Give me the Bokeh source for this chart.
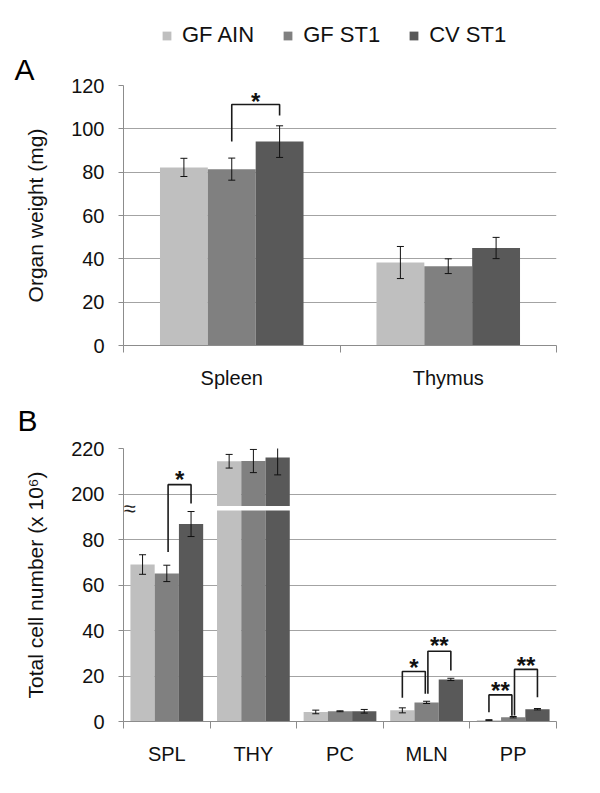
from bokeh.plotting import figure
from bokeh.models import FixedTicker, Legend, LegendItem, Label, Title
from bokeh.layouts import column
from bokeh.embed import file_html
from bokeh.resources import INLINE
from bokeh.core.properties import value

FONT = "Liberation Sans"
TEXT = "#111111"
GRID = "#a3a3a3"
AXIS = "#8c8c8c"

# ---------------- data ----------------
groups = ["GF AIN", "GF ST1", "CV ST1"]
colors = ["#bfbfbf", "#808080", "#595959"]

# Panel A: organ weight (mg)
organs = ["Spleen", "Thymus"]
weight_gf_ain = [82.2, 38.3]
weight_gf_st1 = [81.4, 36.6]
weight_cv_st1 = [94.1, 45.0]
weight_err_gf_ain = [4.2, 7.4]
weight_err_gf_st1 = [5.1, 3.4]
weight_err_cv_st1 = [7.3, 4.9]
weight_ticks = [0, 20, 40, 60, 80, 100, 120]

# Panel B: total cell number (x 10^6), broken axis
tissues = ["SPL", "THY", "PC", "MLN", "PP"]
cells_gf_ain = [69.0, 214.4, 4.2, 4.9, 0.6]
cells_gf_st1 = [65.1, 214.5, 4.5, 8.4, 1.9]
cells_cv_st1 = [86.8, 216.0, 4.5, 18.5, 5.4]
cells_err_gf_ain = [4.3, 3.0, 0.8, 1.1, 0.2]
cells_err_gf_st1 = [3.6, 5.1, 0.2, 0.5, 0.3]
cells_err_cv_st1 = [5.5, 7.6, 0.8, 0.5, 0.3]
cells_ticks = [0, 20, 40, 60, 80, 200, 220]
break_shift = 100          # values above the break are drawn 100 lower
break_gap = (92.7, 94.7)   # white gap in the broken bars (axis units)

# significance brackets: (category, bar_from, bar_to, y_left, y_top, y_right, label, y_label)
brackets_a = [(0, 1, 2, 94.2, 111.2, 106.2, "*", 114.5)]
brackets_b = [
    (0, 1, 2, 74.5, 104.1, 95.8, "*", 108.3),
    (3, 0, 1, 10.4, 22.0, 12.2, "*", 25.4),
    (3, 1, 2, 12.2, 30.9, 22.4, "**", 35.0),
    (4, 0, 1, 4.1, 11.7, 2.5, "**", 15.4),
    (4, 1, 2, 2.6, 22.9, 10.7, "**", 26.5),
]


def tr(v):
    return v - break_shift if v > 150 else v


def style_axes(p, label):
    p.outline_line_color = None
    p.xgrid.visible = False
    p.ygrid.grid_line_color = GRID
    p.ygrid.grid_line_width = 1
    for ax in (p.xaxis[0], p.yaxis[0]):
        ax.axis_line_color = AXIS
        ax.major_tick_line_color = AXIS
        ax.minor_tick_line_color = AXIS
        ax.major_label_text_font = FONT
        ax.major_label_text_color = TEXT
        ax.axis_label_text_font = FONT
        ax.axis_label_text_color = TEXT
        ax.axis_label_text_font_style = "normal"
    xa, ya = p.xaxis[0], p.yaxis[0]
    xa.major_tick_out = 0
    xa.major_tick_in = 0
    xa.minor_tick_out = 7
    xa.minor_tick_in = 0
    xa.major_label_text_font_size = "20px"
    xa.major_label_standoff = 14
    ya.major_tick_out = 5
    ya.major_tick_in = 0
    ya.minor_tick_out = 0
    ya.minor_tick_in = 0
    ya.major_label_text_font_size = "20px"
    ya.major_label_standoff = 14
    ya.axis_label = label
    ya.axis_label_text_font_size = "21px"
    ya.axis_label_standoff = 21


def add_errors(p, xs, tops, errs, cap):
    lo = [t - e for t, e in zip(tops, errs)]
    hi = [t + e for t, e in zip(tops, errs)]
    p.segment(x0=xs, y0=lo, x1=xs, y1=hi, line_color="#111111", line_width=1)
    p.scatter(x=xs + xs, y=lo + hi, marker="dash", size=cap,
              line_color="#111111", line_width=1)


def add_brackets(p, brackets, w, nudge, size, yoff):
    for cat, b0, b1, yl, yt, yr, lab, ys in brackets:
        x0 = cat + (b0 - 1) * w + (nudge if b0 == 1 else 0)
        x1 = cat + (b1 - 1) * w - (nudge if b1 == 1 else 0)
        p.line(x=[x0, x0, x1, x1], y=[yl, yt, yt, yr], line_color="#1a1a1a", line_width=1.6)
        p.text(x=[(x0 + x1) / 2], y=[ys], text=[lab], text_align="center",
               text_baseline="alphabetic", y_offset=yoff,
               text_font=value(FONT), text_font_size=size, text_font_style="bold",
               text_color="#111111")


# ---------------- Legend strip ----------------
pL = figure(width=592, height=48, x_range=(0, 1), y_range=(0, 1),
            x_axis_type=None, y_axis_type=None, output_backend="svg",
            toolbar_location=None, min_border=0)
pL.outline_line_color = None
pL.grid.visible = False
items = []
for i, g in enumerate(groups):
    # zero-height swatch bars: only their colours are shown, in the legend
    r = pL.vbar(x=[0], bottom=[0], top=[0], width=0, fill_color=colors[i], line_color=None)
    items.append(LegendItem(label=g, renderers=[r]))
legend = Legend(items=items, orientation="horizontal", location=(38, 0),
                padding=0, margin=0, spacing=28, label_standoff=10,
                glyph_width=11, glyph_height=11,
                label_text_font=FONT, label_text_font_size="22px", label_text_color=TEXT,
                border_line_color=None, background_fill_alpha=0)
pL.add_layout(legend)

# ---------------- Panel A ----------------
wA = 0.221
pA = figure(width=592, height=343, x_range=(-0.5, len(organs) - 0.5), y_range=(0, 120),
            output_backend="svg", toolbar_location=None,
            min_border_left=122, min_border_right=31, min_border_top=37, min_border_bottom=46)
style_axes(pA, "Organ weight (mg)")
pA.xaxis.ticker = FixedTicker(ticks=list(range(len(organs))),
                              minor_ticks=[k - 0.5 for k in range(len(organs) + 1)])
pA.xaxis.major_label_overrides = {k: n for k, n in enumerate(organs)}
pA.yaxis.ticker = FixedTicker(ticks=weight_ticks, minor_ticks=[])

means_a = [weight_gf_ain, weight_gf_st1, weight_cv_st1]
errs_a = [weight_err_gf_ain, weight_err_gf_st1, weight_err_cv_st1]
for i, g in enumerate(groups):
    xs = [k + (i - 1) * wA for k in range(len(organs))]
    pA.vbar(x=xs, top=means_a[i], width=wA, fill_color=colors[i], line_color=None)
for i, g in enumerate(groups):
    xs = [k + (i - 1) * wA for k in range(len(organs))]
    add_errors(pA, xs, means_a[i], errs_a[i], 7)
add_brackets(pA, brackets_a, wA, 0.0, "24px", 4)

pA.add_layout(Title(text="A", align="left", offset=-109, standoff=0,
                    text_font=FONT, text_font_size="30px", text_font_style="normal",
                    text_color="#000000"), "above")

# ---------------- Panel B ----------------
wB = 0.28
pB = figure(width=592, height=394, x_range=(-0.5, len(tissues) - 0.5), y_range=(0, 120),
            output_backend="svg", toolbar_location=None,
            min_border_left=123, min_border_right=36, min_border_top=57, min_border_bottom=64)
style_axes(pB, "Total cell number (x 10\u2076)")
pB.xaxis.ticker = FixedTicker(ticks=list(range(len(tissues))),
                              minor_ticks=[k - 0.5 for k in range(len(tissues) + 1)])
pB.xaxis.major_label_overrides = {k: n for k, n in enumerate(tissues)}
pB.yaxis.ticker = FixedTicker(ticks=[tr(v) for v in cells_ticks], minor_ticks=[])
pB.yaxis.major_label_overrides = {tr(v): str(v) for v in cells_ticks}

means_b = [cells_gf_ain, cells_gf_st1, cells_cv_st1]
errs_b = [cells_err_gf_ain, cells_err_gf_st1, cells_err_cv_st1]
for i, g in enumerate(groups):
    xs = [k + (i - 1) * wB for k in range(len(tissues))]
    tops = [tr(v) for v in means_b[i]]
    low_x = [x for x, v in zip(xs, means_b[i]) if v <= 150]
    low_t = [t for t, v in zip(tops, means_b[i]) if v <= 150]
    pB.vbar(x=low_x, top=low_t, width=wB, fill_color=colors[i], line_color=None)
    brk_x = [x for x, v in zip(xs, means_b[i]) if v > 150]
    brk_t = [t for t, v in zip(tops, means_b[i]) if v > 150]
    pB.vbar(x=brk_x, top=[break_gap[0]] * len(brk_x), width=wB, fill_color=colors[i], line_color=None)
    pB.vbar(x=brk_x, bottom=[break_gap[1]] * len(brk_x), top=brk_t, width=wB,
            fill_color=colors[i], line_color=None)
for i, g in enumerate(groups):
    xs = [k + (i - 1) * wB for k in range(len(tissues))]
    add_errors(pB, xs, [tr(v) for v in means_b[i]], errs_b[i], 7)
add_brackets(pB, brackets_b, wB, 0.015, "24px", 4)

pB.add_layout(Label(x=-0.5, y=(break_gap[0] + break_gap[1]) / 2, x_offset=6, text="\u2248",
                    text_font=FONT, text_font_size="22px", text_color="#222222",
                    text_align="center", text_baseline="middle"))
pB.add_layout(Title(text="B", align="left", offset=-106, standoff=20, vertical_align="top",
                    text_font=FONT, text_font_size="30px", text_font_style="normal",
                    text_color="#000000"), "above")

page = column(pL, pA, pB)
open("out.html", "w").write(file_html(page, INLINE))
